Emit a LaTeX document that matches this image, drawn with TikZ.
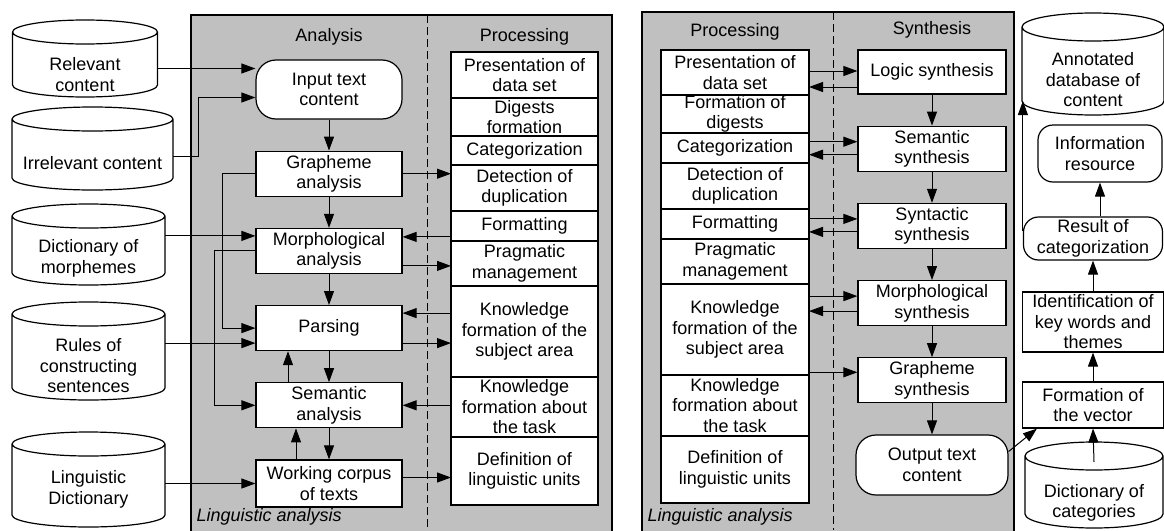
\documentclass[tikz,border=0pt]{standalone}
\usepackage{fontspec}
\setmainfont{Liberation Sans}
\usetikzlibrary{positioning, arrows.meta, calc, backgrounds}

\definecolor{panel}{RGB}{192,192,192}

\begin{document}
\begin{tikzpicture}[x=1pt, y=-1pt, node distance=31pt,
    font=\fontsize{18}{20.5}\selectfont,
    arr/.style={line width=1pt, -{Triangle[length=14pt, width=10pt]}},
    anabox/.style={draw, fill=white, line width=1.2pt, align=center, inner sep=1pt,
      minimum width=146pt, minimum height=45pt},
    roundbox/.style={anabox, rounded corners=20pt},
    procbox/.style={anabox, minimum width=147pt, inner ysep=0pt, outer sep=0pt},
    dbase/.style={inner sep=0pt, outer sep=0pt},
    intext/.style={align=center}]
  \useasboundingbox (0,0) rectangle (1164,530);
  % panels
  \filldraw[fill=panel, line width=1.2pt] (191,15) rectangle (612,545);
  \filldraw[fill=panel, line width=1.2pt] (642,12) rectangle (1014,545);
  \draw[line width=1pt, dash pattern=on 8pt off 4pt] (427,15) -- (427,530);
  \draw[line width=1pt, dash pattern=on 8pt off 4pt] (833,12) -- (833,530);

  \node (hana) at (329,37) {Analysis};
  \node (hlpro) at (524.5,37) {Processing};
  \node (hrpro) at (735,32) {Processing};
  \node (hsyn) at (932,30) {Synthesis};
  \node[anchor=west] (lla) at (193,517) {\itshape Linguistic analysis};
  \node[anchor=west] (rla) at (644,517) {\itshape Linguistic analysis};

  % sources
  \node[dbase, minimum width=145pt, minimum height=77pt,
    label={[intext, yshift=-16pt]center:Relevant\\content}] (rel) at (85,58.5) {};
  \node[dbase, minimum width=161pt, minimum height=83pt,
    label={[yshift=-15pt]center:Irrelevant content}] (irr) at (92.5,148.5) {};
  \node[dbase, minimum width=153pt, minimum height=81pt,
    label={[intext, yshift=-14pt]center:Dictionary of\\morphemes}] (dmo) at (88.5,244.5) {};
  \node[dbase, minimum width=153pt, minimum height=98pt,
    label={[intext, yshift=-15pt]center:Rules of\\constructing\\sentences}] (rul) at (88.5,351) {};
  \node[dbase, minimum width=153pt, minimum height=95pt,
    label={[intext, yshift=-10pt]center:Linguistic\\Dictionary}] (lin) at (88.5,479.5) {};

  % analysis
  \node[roundbox, minimum height=59pt] (inp) at (329,89.5) {Input text\\content};
  \node[anabox, below=of inp] (gra) {Grapheme\\analysis};
  \node[anabox, below=of gra] (mor) {Morphological\\analysis};
  \node[anabox, below=of mor] (par) {Parsing};
  \node[anabox, below=of par] (sem) {Semantic\\analysis};
  \node[anabox, below=of sem, minimum height=47pt] (wor) {Working corpus\\of texts};

  % processing, left
  \node[procbox, minimum height=46pt, anchor=north] (lp1) at (524.5,52) {Presentation of\\data set};
  \node[procbox, minimum height=38pt, below=0pt of lp1] (lp2) {Digests\\formation};
  \node[procbox, minimum height=29pt, below=0pt of lp2] (lp3) {Categorization};
  \node[procbox, minimum height=46pt, below=0pt of lp3] (lp4) {Detection of\\duplication};
  \node[procbox, minimum height=30pt, below=0pt of lp4] (lp5) {Formatting};
  \node[procbox, minimum height=45pt, below=0pt of lp5] (lp6) {Pragmatic\\management};
  \node[procbox, minimum height=91pt, below=0pt of lp6] (lp7) {Knowledge\\formation of the\\subject area};
  \node[procbox, minimum height=60pt, below=0pt of lp7] (lp8) {Knowledge\\formation about\\the task};
  \node[procbox, minimum height=68pt, below=0pt of lp8] (lp9) {Definition of\\linguistic units};

  % processing, right
  \node[procbox, minimum width=148pt, minimum height=45pt, anchor=north] (rp1) at (735,50) {Presentation of\\data set};
  \node[procbox, minimum width=148pt, minimum height=38pt, below=0pt of rp1] (rp2) {Formation of\\digests};
  \node[procbox, minimum width=148pt, minimum height=30pt, below=0pt of rp2] (rp3) {Categorization};
  \node[procbox, minimum width=148pt, minimum height=46pt, below=0pt of rp3] (rp4) {Detection of\\duplication};
  \node[procbox, minimum width=148pt, minimum height=30pt, below=0pt of rp4] (rp5) {Formatting};
  \node[procbox, minimum width=148pt, minimum height=45pt, below=0pt of rp5] (rp6) {Pragmatic\\management};
  \node[procbox, minimum width=148pt, minimum height=91pt, below=0pt of rp6] (rp7) {Knowledge\\formation of the\\subject area};
  \node[procbox, minimum width=148pt, minimum height=61pt, below=0pt of rp7] (rp8) {Knowledge\\formation about\\the task};
  \node[procbox, minimum width=148pt, minimum height=67pt, below=0pt of rp8] (rp9) {Definition of\\linguistic units};

  % synthesis
  \node[anabox, minimum width=148pt, minimum height=44pt] (log) at (932,72) {Logic synthesis};
  \node[anabox, minimum width=148pt, below=of log] (ssem) {Semantic\\synthesis};
  \node[anabox, minimum width=148pt, below=of ssem] (ssyn) {Syntactic\\synthesis};
  \node[anabox, minimum width=148pt, below=of ssyn] (smor) {Morphological\\synthesis};
  \node[anabox, minimum width=148pt, below=of smor] (sgra) {Grapheme\\synthesis};
  \node[roundbox, minimum width=152pt, minimum height=60pt, below=of sgra] (out) {Output text\\content};

  % results
  \node[dbase, minimum width=142pt, minimum height=102pt,
    label={[intext, yshift=-16pt]center:Annotated\\database of\\content}] (adb) at (1093,64) {};
  \node[roundbox, minimum width=124pt, minimum height=57pt, rounded corners=15pt] (info) at (1100,153.5) {Information\\resource};
  \node[roundbox, minimum width=139pt, minimum height=43pt, rounded corners=15pt] (res) at (1093,238.5) {Result of\\categorization};
  \node[anabox, minimum width=141pt, minimum height=60pt] (idn) at (1093,322) {Identification of\\key words and\\themes};
  \node[anabox, minimum width=141pt, minimum height=46pt] (fvec) at (1093,405) {Formation of\\the vector};
  \node[dbase, minimum width=138pt, minimum height=86pt,
    label={[intext, yshift=-18pt]center:Dictionary of\\categories}] (dcat) at (1094,485) {};

  % cylinder outlines behind the database nodes
  \begin{scope}[on background layer]
    \foreach \c/\r in {rel/12pt, irr/12pt, dmo/12pt, rul/12pt, lin/12pt, adb/14pt, dcat/14pt}
      \filldraw[fill=white, line width=1.2pt]
        let \p1=(\c.north west), \p2=(\c.south east), \n1={(\x2-\x1)/2} in
        (\x1,\y1-\r) -- (\x1,\y2+\r)
        arc[start angle=180, end angle=360, x radius=\n1, y radius=\r]
        -- (\x2,\y1-\r)
        arc[start angle=0, end angle=360, x radius=\n1, y radius=\r];
  \end{scope}

  % inputs to analysis
  \draw[arr] ([yshift=21pt]inp.west -| rel.east) -- ([yshift=21pt]inp.west);
  \draw[arr] ([yshift=-8pt]irr.east) -| ([xshift=-57pt, yshift=-8pt]inp.west) -- ([yshift=-8pt]inp.west);
  \draw[arr] ([yshift=15pt]mor.west -| dmo.east) -- ([yshift=15pt]mor.west);
  \draw[arr] ([yshift=-15pt]par.west -| rul.east) -- ([yshift=-15pt]par.west);
  \draw[arr] (wor.west -| lin.east) -- (wor.west);

  % analysis chain
  \path[arr] (inp) edge (gra) (gra) edge (mor) (mor) edge (par)
    (par) edge (sem) (sem) edge (wor);
  \draw[arr] ([xshift=-41pt]sem.north) -- ([xshift=-41pt]par.south);
  \draw[arr] ([xshift=-33pt]wor.north) -- ([xshift=-33pt]sem.south);
  \draw[arr] (gra.west) -- ([xshift=-33pt]gra.west) |- (par.west);
  \draw[arr] (mor.west) -- ([xshift=-41pt]mor.west) |- (sem.west);

  % analysis <-> processing
  \draw[arr] (gra.east) -- (gra.east -| lp4.west);
  \draw[arr] ([yshift=14pt]mor.east -| lp5.west) -- ([yshift=14pt]mor.east);
  \draw[arr] ([yshift=-15pt]mor.east) -- ([yshift=-15pt]mor.east -| lp6.west);
  \draw[arr] ([yshift=15pt]par.east -| lp7.west) -- ([yshift=15pt]par.east);
  \draw[arr] ([yshift=-15pt]par.east) -- ([yshift=-15pt]par.east -| lp7.west);
  \draw[arr] (sem.east -| lp8.west) -- (sem.east);
  \draw[arr] ([yshift=6pt]wor.east) -- ([yshift=6pt]wor.east -| lp9.west);

  % processing <-> synthesis
  \draw[arr] ([yshift=1pt]log.west -| rp1.east) -- ([yshift=1pt]log.west);
  \draw[arr] ([yshift=-15pt]log.west) -- ([yshift=-15pt]log.west -| rp1.east);
  \draw[arr] ([yshift=7pt]ssem.west -| rp3.east) -- ([yshift=7pt]ssem.west);
  \draw[arr] ([yshift=-6pt]ssem.west) -- ([yshift=-6pt]ssem.west -| rp3.east);
  \draw[arr] ([yshift=7pt]ssyn.west -| rp5.east) -- ([yshift=7pt]ssyn.west);
  \draw[arr] ([yshift=-6pt]ssyn.west) -- ([yshift=-6pt]ssyn.west -| rp5.east);
  \draw[arr] ([yshift=7pt]smor.west -| rp7.east) -- ([yshift=7pt]smor.west);
  \draw[arr] ([yshift=-8pt]smor.west) -- ([yshift=-8pt]smor.west -| rp7.east);
  \draw[arr] ([yshift=8pt]sgra.west -| rp7.east) -- ([yshift=8pt]sgra.west);

  % synthesis chain
  \path[arr] (log) edge (ssem) (ssem) edge (ssyn) (ssyn) edge (smor)
    (smor) edge (sgra) (sgra) edge (out);

  % results chain
  \draw[arr] (out.10) -- ([xshift=15pt]fvec.south west);
  \draw[arr] ([yshift=23pt]dcat.center) -- (fvec.south);
  \path[arr] (fvec) edge (idn) (idn) edge (res);
  \draw[arr] (res.north -| info.south) -- (info.south);
  \draw[arr] ([yshift=8pt]res.west) -- ([yshift=14pt]res.west |- adb.south);
\end{tikzpicture}
\end{document}
